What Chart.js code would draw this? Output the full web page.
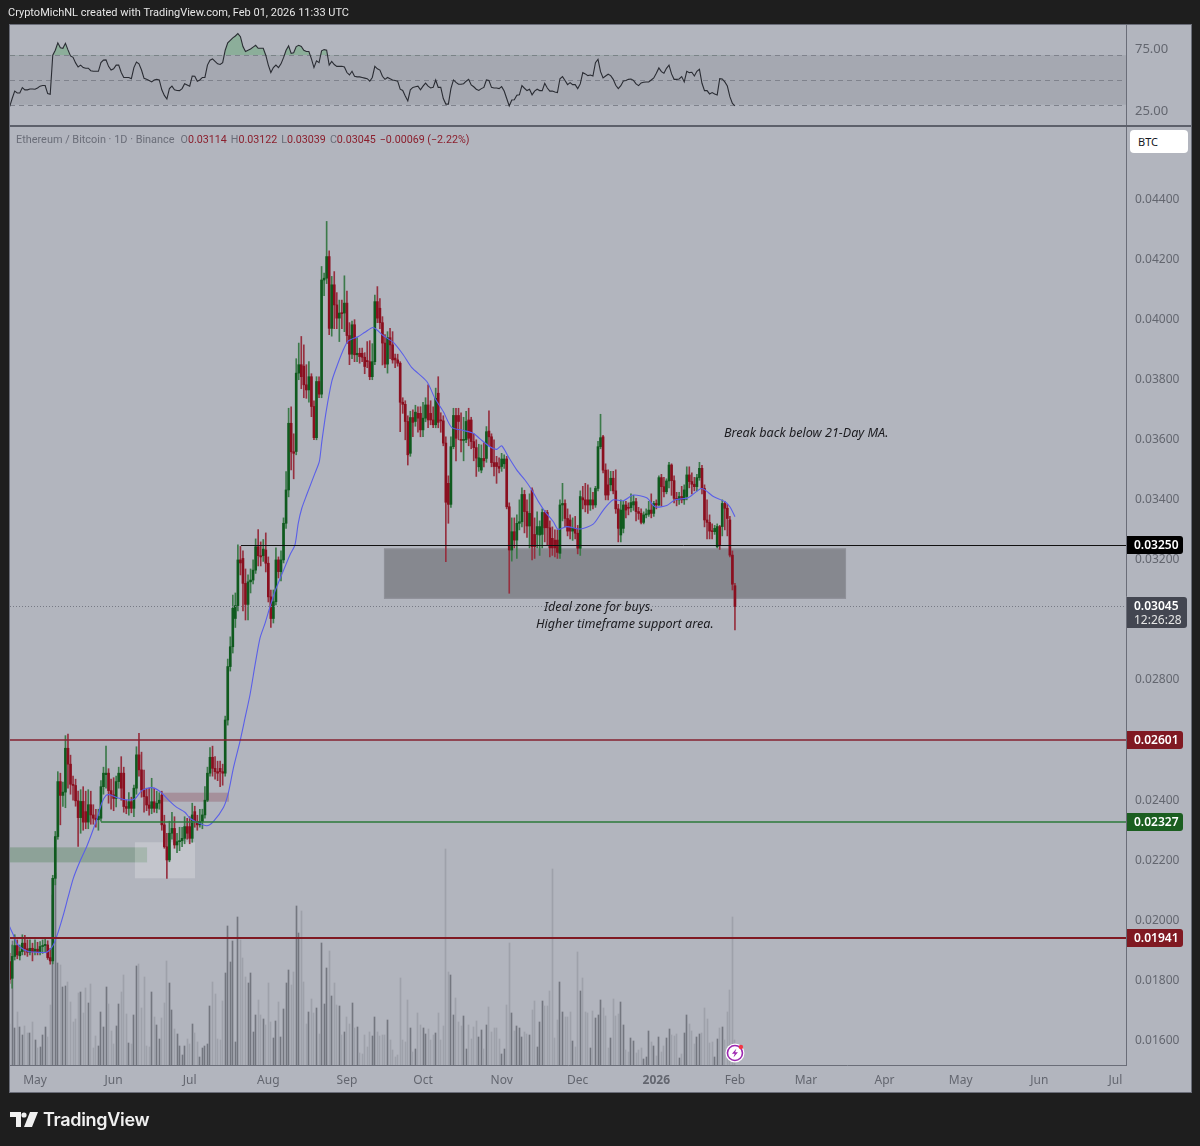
<!DOCTYPE html>
<html>
<head>
<meta charset="utf-8">
<script src="https://cdn.jsdelivr.net/npm/chart.js@4"></script>
<style>
html,body{margin:0;padding:0;background:#1e1e1e;width:1200px;height:1146px;overflow:hidden;font-family:"Noto Sans",sans-serif}
#frame{position:absolute;left:9px;top:24px;width:1181px;height:1067px;background:#b2b5be;border:1px solid #6a6d78}
canvas{position:absolute;left:0}
#rsi{top:0}
#main{top:127px}
.t{position:absolute;white-space:nowrap}
#hdr{left:8px;top:5px;color:#e6e6e6;font-size:11px;line-height:16px;font-family:Roboto,sans-serif}
#leg{left:16px;top:132px;color:#6a6d78;font-size:10.9px;line-height:15px;font-family:Roboto,sans-serif}
#leg b{font-weight:400;color:#8b1f2d}
#leg i{font-style:normal;margin-left:4px;font-size:10.7px}
#leg i:first-of-type{margin-left:6px}
#btc{position:absolute;left:1130px;top:130px;width:58px;height:23px;background:#fff;border-radius:4px;color:#131722;font-size:11px;line-height:23px;text-indent:8px}
.n{color:#1b1b1f;font-size:12.6px;font-style:italic;line-height:16px}
#sep{position:absolute;left:10px;top:125px;width:1181px;height:2px;background:#5d606b}
#tvt{left:43px;top:1106px;color:#f0f0f0;font-size:18px;font-weight:600;line-height:28px;font-family:Inter,"Noto Sans",sans-serif;letter-spacing:-.3px}
#tvl{position:absolute;left:10px;top:1112px}
</style>
</head>
<body>
<div id="frame"></div>
<canvas id="rsi" width="1200" height="127"></canvas>
<div id="sep"></div>
<canvas id="main" width="1200" height="1019"></canvas>
<div class="t" id="hdr">CryptoMichNL created with TradingView.com, Feb 01, 2026 11:33 UTC</div>
<div class="t" id="leg">Ethereum / Bitcoin · 1D · Binance<i>O<b>0.03114</b></i><i>H<b>0.03122</b></i><i>L<b>0.03039</b></i><i>C<b>0.03045</b></i><i><b>−0.00069 (−2.22%)</b></i></div>
<div id="btc">BTC</div>
<div class="t n" style="left:724px;top:425px">Break back below 21-Day MA.</div>
<div class="t n" style="left:544px;top:599px">Ideal zone for buys.</div>
<div class="t n" style="left:536px;top:616px">Higher timeframe support area.</div>
<svg id="tvl" width="28" height="16" viewBox="0 0 28 16"><path d="M0 0h11v15H6V5H0z M20 0h8l-6 15h-8z" fill="#f0f0f0"/><circle cx="14" cy="3" r="2.6" fill="#f0f0f0"/></svg>
<div class="t" id="tvt">TradingView</div>
<script>
// Prices are in units of 0.00001 BTC; one candle per day, first candle = startDay days from 1 May 2025.
const startDay = -10;
const opens = [
1863,1807,1880,1916,1882,1896,1924,1905,1894,1907,
1896,1904,1896,1913,1916,1918,1876,1865,2140,2279,
2462,2416,2427,2573,2520,2453,2449,2398,2342,2396,
2362,2327,2385,2351,2340,2335,2340,2445,2485,2490,
2432,2418,2406,2462,2490,2490,2379,2373,2395,2373,
2440,2551,2501,2434,2412,2384,2373,2395,2373,2390,
2417,2318,2245,2201,2290,2306,2251,2262,2265,2273,
2312,2312,2273,2362,2329,2318,2329,2351,2400,2490,
2543,2506,2495,2506,2495,2490,2667,2845,2911,3005,
3048,3200,3205,3122,3052,3127,3133,3166,3244,3214,
3214,3233,3189,3077,3005,3061,3200,3161,3200,3322,
3433,3655,3560,3561,3822,3850,3845,3783,3766,3810,
3711,3607,3794,3752,4132,4138,4210,3971,4116,4049,
4005,4022,4022,4055,3947,3885,3983,3883,3888,3888,
3875,3864,3860,3810,3860,4060,4038,3990,3922,3852,
3940,3916,3872,3866,3855,3725,3718,3661,3555,3674,
3661,3688,3688,3633,3672,3716,3688,3666,3650,3755,
3666,3663,3589,3455,3385,3577,3681,3681,3600,3598,
3600,3666,3666,3594,3574,3510,3499,3538,3538,3629,
3610,3524,3524,3511,3511,3520,3536,3377,3233,3294,
3266,3322,3327,3418,3361,3313,3433,3285,3285,3283,
3285,3358,3358,3307,3272,3266,3266,3222,3383,3388,
3338,3333,3296,3305,3289,3239,3407,3400,3400,3383,
3400,3383,3438,3577,3610,3499,3450,3450,3472,3430,
3370,3283,3305,3383,3374,3374,3383,3394,3361,3355,
3325,3350,3352,3366,3355,3388,3383,3474,3444,3427,
3463,3516,3464,3405,3400,3411,3400,3411,3483,3461,
3452,3444,3474,3505,3438,3333,3325,3296,3294,3244,
3311,3311,3388,3372,3333,3216,3114];
const highs = [
1890,1918,1952,1935,1918,1952,1950,1935,1935,1924,
1935,1927,1929,1935,1941,1932,1907,2150,2296,2495,
2490,2460,2615,2620,2550,2480,2470,2430,2435,2445,
2430,2435,2430,2385,2370,2370,2465,2510,2580,2505,
2470,2475,2480,2510,2545,2510,2400,2425,2410,2450,
2578,2623,2560,2500,2440,2440,2473,2440,2430,2425,
2430,2350,2290,2330,2360,2345,2290,2310,2310,2345,
2340,2345,2390,2380,2350,2370,2370,2445,2510,2575,
2580,2545,2530,2530,2520,2680,2870,2944,3083,3090,
3250,3245,3230,3170,3150,3170,3200,3270,3301,3260,
3268,3290,3210,3100,3100,3240,3210,3230,3340,3494,
3705,3710,3620,3870,3922,3944,3916,3850,3860,3820,
3730,3810,3810,4177,4155,4327,4229,4144,4160,4090,
4065,4065,4146,4095,3990,3995,4000,3940,3905,3905,
3890,3927,3930,3920,4082,4110,4070,4010,3950,3960,
3971,3960,3885,3885,3860,3740,3730,3680,3695,3700,
3715,3710,3710,3725,3740,3783,3730,3710,3772,3810,
3690,3680,3610,3480,3610,3705,3705,3705,3690,3675,
3695,3705,3675,3620,3600,3585,3583,3590,3644,3696,
3620,3600,3545,3540,3555,3550,3545,3390,3340,3340,
3350,3400,3440,3432,3400,3420,3440,3340,3360,3330,
3370,3365,3365,3330,3310,3300,3300,3400,3455,3400,
3370,3350,3340,3345,3315,3430,3445,3455,3450,3440,
3425,3445,3595,3685,3615,3520,3500,3495,3495,3500,
3385,3400,3395,3395,3390,3420,3415,3405,3375,3370,
3360,3370,3395,3420,3395,3400,3480,3485,3475,3470,
3525,3520,3480,3425,3425,3445,3450,3510,3510,3490,
3475,3485,3525,3515,3450,3400,3350,3320,3315,3320,
3315,3400,3395,3385,3345,3230,3122];
const lows = [
1790,1774,1868,1872,1868,1885,1885,1880,1885,1865,
1885,1885,1885,1890,1896,1870,1854,1855,2118,2270,
2318,2379,2375,2440,2420,2400,2380,2246,2290,2300,
2305,2305,2320,2320,2310,2300,2330,2420,2440,2390,
2370,2365,2378,2440,2400,2360,2355,2350,2358,2345,
2420,2480,2410,2360,2365,2350,2355,2360,2358,2370,
2300,2240,2140,2195,2270,2240,2225,2232,2245,2255,
2270,2255,2260,2310,2300,2310,2305,2340,2395,2480,
2480,2470,2465,2445,2450,2480,2650,2830,2890,2975,
3030,3150,3030,3000,3000,3090,3120,3155,3180,3180,
3195,3160,3060,2975,2990,3050,3140,3130,3190,3305,
3410,3500,3470,3550,3800,3770,3740,3738,3725,3677,
3600,3600,3740,3740,4080,4120,3950,3945,3970,3970,
3927,3970,3960,3920,3850,3870,3860,3860,3855,3860,
3820,3840,3800,3800,3850,3990,3970,3849,3840,3822,
3870,3855,3840,3845,3627,3688,3600,3516,3545,3610,
3645,3625,3610,3610,3660,3640,3650,3640,3640,3640,
3625,3580,3194,3322,3375,3570,3530,3600,3560,3530,
3590,3580,3570,3530,3478,3495,3490,3510,3525,3580,
3510,3480,3455,3490,3495,3505,3370,3089,3196,3240,
3205,3300,3310,3290,3275,3240,3200,3205,3240,3215,
3240,3260,3250,3210,3215,3210,3205,3205,3330,3310,
3280,3270,3265,3270,3220,3215,3370,3360,3355,3365,
3370,3375,3430,3570,3490,3400,3400,3430,3420,3355,
3260,3260,3290,3340,3350,3360,3365,3330,3335,3320,
3320,3340,3345,3340,3345,3370,3380,3380,3410,3420,
3440,3415,3390,3380,3385,3390,3385,3400,3440,3420,
3430,3430,3465,3420,3310,3270,3270,3270,3285,3240,
3235,3280,3300,3280,3210,3100,2967];
const closes = [
1803,1880,1916,1885,1896,1924,1905,1894,1907,1896,
1904,1896,1913,1916,1920,1876,1865,2140,2279,2462,
2416,2427,2573,2520,2453,2449,2398,2342,2396,2327,
2327,2385,2351,2340,2335,2346,2445,2490,2490,2432,
2418,2406,2462,2490,2440,2379,2373,2395,2373,2440,
2551,2501,2434,2412,2384,2373,2395,2373,2390,2400,
2318,2245,2201,2290,2306,2251,2262,2265,2273,2312,
2290,2273,2351,2329,2318,2329,2351,2400,2490,2543,
2506,2495,2490,2495,2490,2667,2845,2911,3039,3048,
3200,3190,3122,3052,3127,3133,3166,3244,3214,3210,
3236,3189,3077,3005,3061,3200,3161,3200,3322,3433,
3655,3560,3555,3822,3850,3810,3783,3766,3810,3711,
3607,3794,3752,4132,4138,4210,3971,4116,4049,4005,
4022,4020,4055,3947,3885,3983,3883,3888,3877,3875,
3844,3860,3810,3860,4060,4005,3990,3922,3852,3940,
3916,3866,3866,3855,3725,3718,3661,3550,3674,3658,
3692,3672,3633,3672,3716,3666,3666,3650,3738,3658,
3663,3589,3392,3385,3577,3681,3605,3661,3598,3600,
3661,3605,3594,3574,3539,3540,3538,3530,3627,3610,
3524,3511,3511,3505,3536,3536,3377,3233,3294,3266,
3322,3327,3418,3361,3313,3355,3244,3244,3311,3311,
3358,3307,3307,3240,3240,3240,3225,3383,3388,3338,
3296,3296,3305,3289,3239,3411,3400,3383,3383,3400,
3383,3438,3577,3607,3499,3416,3416,3472,3430,3370,
3305,3366,3383,3366,3372,3391,3394,3361,3355,3325,
3350,3352,3366,3355,3388,3383,3474,3444,3427,3463,
3516,3464,3405,3400,3411,3400,3433,3483,3461,3452,
3444,3474,3505,3438,3333,3325,3296,3294,3305,3311,
3249,3388,3372,3338,3216,3119,3045];
// Volume, in the overlay's relative units
const volumes = [
41,124,37,53,38,30,39,32,32,43,
25,17,18,30,38,28,60,170,192,102,
100,78,79,83,63,43,46,72,73,52,
77,62,81,17,29,19,53,38,78,61,
34,21,39,61,73,90,51,22,21,50,
99,101,57,88,19,18,73,48,40,26,
47,62,104,82,55,36,31,19,10,19,
26,21,41,32,23,8,17,19,21,59,
83,71,26,25,64,92,139,103,124,23,
148,125,107,88,82,92,33,50,65,50,
46,40,82,43,27,44,63,28,56,82,
95,80,93,159,132,154,83,41,53,66,
52,57,31,122,61,97,114,69,82,60,
59,30,33,48,41,62,37,38,12,11,
30,18,33,29,48,33,29,30,30,45,
25,15,8,10,87,25,23,65,37,13,
16,52,40,37,31,36,25,30,32,52,
25,39,216,93,90,50,67,43,39,49,
16,40,26,38,44,28,35,16,40,58,
33,37,37,26,11,16,60,122,52,34,
39,37,28,33,31,30,55,64,18,43,
64,59,59,74,196,27,45,83,53,48,
48,53,24,18,113,74,87,53,52,17,
54,47,50,65,57,49,17,27,66,49,
51,63,40,15,13,27,24,12,15,17,
6,8,34,23,19,9,28,13,19,27,
36,30,29,31,7,11,32,50,41,34,
21,28,31,32,57,46,22,23,8,26,
37,38,25,53,75,148,25];
const rsiValues = [
28.4,35,41,39.5,39.5,43.8,42,42,42.7,42.7,
42.5,43.5,45,45.5,45.5,39,38.4,70,74,80,
76,75.6,79.6,74.3,69.4,68.3,63.8,60.5,62,60,
59.5,59.5,57.5,57,57,57,64,66,66.2,61,
58,59,62,62,56,52,52,52,51,60,
64.5,63,58,51.3,50.5,49.5,48.4,50,50.5,50,
42,37.5,34.6,43,45,42,41.5,41.4,43,47,
46,45,53.2,53,49,50,52,52,62,66,
67,65,63,62.5,64,74,80,82,84,85.5,
87.5,85,77,73,74,75,76.5,78,75.6,75.6,
75.6,70,62,56,60,62,60,63,68,74,
77.5,71.5,72,77,78,77,74,73,73,67,
60,65.5,64,73.5,74.5,74,62,65,62.5,61,
61,61,60.5,56,54,57,53,52.5,52.5,52,
51.5,51,49,52,61,59,58,53,50.5,52,
51,50,49.5,49,42.5,41.5,37,33,42,44,
44.5,45,42,45,47.5,45,43.5,44,50,44,
44,35,30.5,30.5,43,50,48,46.5,46.5,47,
49,50.5,46,44.5,42.5,41.5,43,44,50,49.5,
44,43.5,43.5,43,44.6,41,35,29,33.8,34,
37.6,38,45.4,43.3,41.4,42.5,38,41,42.5,41.4,
41.4,47.3,43.5,41,41,40.3,39.8,51,52.7,49.5,
46.2,47.8,46.2,46.2,43,46.8,55.9,54.9,53.5,54,
53.2,64,66.7,56.7,51.6,53.2,54.6,53.5,50.5,45.7,
43,45.4,49.2,49.5,50.5,50.8,49.7,46.8,45.4,47.6,
48.1,48.4,48.4,50,51.6,55.4,59.7,56.7,55.4,59.4,
62,54.9,50.5,50.5,50.8,52.7,48.4,57,55.9,56.2,
53.2,57,58.6,47.3,41.4,41.4,38.7,39.8,38.7,37.9,
51,50.8,48.4,45.1,36.5,31,29];
// 21-day moving average: day offset and level
const maDays = [-10.1,-8.6,-7.2,-5.2,-2.6,0.7,4.6,7.2,9.2,11.2,13.1,15.1,17.7,20.4,22.4,24.3,26.3,28,29.6,32.2,36.2,39.4,42.1,46,49.3,53.2,55.9,59.1,61.1,63.8,67.7,70.3,74.3,76.2,78.2,80.8,82.8,84.8,86.8,88.7,90.7,92.7,94.6,97.3,100.6,102.5,103.8,105.2,107.1,110.4,112.1,113.1,114.8,117,119,121.3,123.5,127.5,130.1,133.4,137.3,141.3,145.2,148.5,154.5,157.7,161,164.3,168.9,172.8,175.5,179.4,182.1,184,186.6,190,193.2,195.9,198.5,201.1,204.4,206.3,209.7,214.9,220.1,224.1,228,232,235.9,241.2,244.5,249.1,252.4,257.6,262.9,267.5,272.1,274,276];
const maValues = [1980,1953,1924,1907,1896,1894,1894,1918,1963,2019,2079,2140,2196,2246,2290,2335,2390,2416,2418,2409,2401,2405,2432,2442,2429,2396,2376,2360,2340,2327,2315,2329,2376,2423,2506,2595,2673,2752,2852,2939,2989,3045,3095,3151,3218,3250,3322,3372,3416,3489,3527,3594,3694,3794,3844,3894,3929,3944,3958,3974,3947,3924,3883,3841,3794,3738,3694,3641,3631,3622,3603,3577,3568,3580,3544,3499,3466,3433,3394,3361,3327,3302,3311,3303,3319,3366,3400,3397,3416,3407,3377,3381,3400,3407,3438,3411,3394,3377,3344];
const monthDays = [0,31,61,92,123,153,184,214,245,276,304,335,365,396,426];
const monthLabels = ["May","Jun","Jul","Aug","Sep","Oct","Nov","Dec","2026","Feb","Mar","Apr","May","Jun","Jul"];
const priceTicks = [1600,1800,2000,2200,2400,2600,2800,3000,3200,3400,3600,3800,4000,4200,4400];
const rsiTicks = [25,75];
const rsiLevels = [30,50,70];

const AXIS='#6a6d78', TXT='#63666f', FONT='"Noto Sans",sans-serif';
const UP='#0f5a1e', DOWN='#8a0f1f', UPW='#3c7a4a', DNW='#96303f', VUP='#73767f', VDN='#9ea1aa';
const XMIN=-9.86, XMAX=430.2;
Chart.defaults.animation=false;
Chart.defaults.font.family=FONT;
const days = closes.map((_,i)=>startDay+i);
const isUp = closes.map((c,i)=>c>=opens[i]);
const fitRight = s => { s.width=65; s.paddingTop=0; s.paddingBottom=0; };

const bandPlugin={id:'band',beforeDatasetsDraw(c){
  const {ctx,chartArea:a,scales:{y}}=c;
  ctx.save();
  ctx.fillStyle='rgba(120,123,134,.22)';
  ctx.fillRect(a.left,y.getPixelForValue(70),a.right-a.left,y.getPixelForValue(30)-y.getPixelForValue(70));
  ctx.strokeStyle='#7f828c';ctx.lineWidth=1;ctx.setLineDash([5,4]);
  rsiLevels.forEach(v=>{const p=Math.round(y.getPixelForValue(v))+.5;ctx.beginPath();ctx.moveTo(a.left,p);ctx.lineTo(a.right,p);ctx.stroke();});
  ctx.restore();
}};
new Chart(document.getElementById('rsi'),{
  type:'line',
  data:{datasets:[{
    data:rsiValues.map((v,i)=>({x:startDay+i,y:v})),
    borderColor:'#2a2c33',borderWidth:1.1,pointRadius:0,tension:0,
    fill:{value:70,above:'rgba(70,160,90,.35)',below:'rgba(0,0,0,0)'}
  }]},
  plugins:[bandPlugin],
  options:{responsive:false,devicePixelRatio:1,
    layout:{autoPadding:false,padding:{left:10,right:9,top:25,bottom:2}},
    plugins:{legend:{display:false},tooltip:{enabled:false}},
    scales:{
      x:{type:'linear',min:XMIN,max:XMAX,display:false},
      y:{position:'right',min:13.6,max:94.4,
        afterFit:fitRight,
        afterBuildTicks(s){s.ticks=rsiTicks.map(v=>({value:v}));},
        grid:{display:false},border:{color:AXIS},
        ticks:{padding:1,color:TXT,font:{size:13},callback:v=>v.toFixed(2)}}
    }
  }
});

const zones=[
  {x0:137.6,x1:319.8,p0:3238,p1:3071,fill:'#86888f',stroke:'#8f9199'},
  {x0:-9.86,x1:44.2,p0:2243,p1:2193,fill:'rgba(90,135,100,.42)'},
  {x0:50,x1:76.5,p0:2425,p1:2395,fill:'rgba(136,60,75,.3)'},
  {x0:39.4,x1:63.1,p0:2260,p1:2140,fill:'rgba(255,255,255,.22)'}
];
const levels=[
  {p:3250,x0:81.2,color:'#111',w:1},
  {p:2601,x0:XMIN,color:'#84222f',w:1.4},
  {p:2327,x0:26,color:'#2b7a3a',w:1.4},
  {p:1941,x0:XMIN,color:'#801922',w:2}
];
const tags=[
  {p:3250,txt:'0.03250',bg:'#000',w:56},
  {p:2601,txt:'0.02601',bg:'#801922',w:56},
  {p:2327,txt:'0.02327',bg:'#1b5e20',w:56},
  {p:1941,txt:'0.01941',bg:'#801922',w:56}
];
const overlay={id:'overlay',
  afterDatasetsUpdate(c){
    // snap the volume bars to whole pixels, as thin crisp lines
    c.getDatasetMeta(3).data.forEach(el=>{el.x=Math.floor(el.x)+.5;});
  },
  beforeDatasetsDraw(c){
    const {ctx,scales:{x,y}}=c;
    ctx.save();
    zones.forEach(z=>{
      const X0=x.getPixelForValue(z.x0),X1=x.getPixelForValue(z.x1),Y0=y.getPixelForValue(z.p0),Y1=y.getPixelForValue(z.p1);
      ctx.fillStyle=z.fill;ctx.fillRect(X0,Y0,X1-X0,Y1-Y0);
      if(z.stroke){ctx.strokeStyle=z.stroke;ctx.lineWidth=1;ctx.strokeRect(X0+.5,Y0+.5,X1-X0-1,Y1-Y0-1);}
    });
    ctx.restore();
  },
  afterDatasetsDraw(c){
    const {ctx,chartArea:a,scales:{x,y}}=c;
    ctx.save();
    // last-price dotted line
    const last=closes[closes.length-1],lp=Math.round(y.getPixelForValue(last))+.5;
    ctx.strokeStyle='#777a85';ctx.lineWidth=1;ctx.setLineDash([1,2]);
    ctx.beginPath();ctx.moveTo(a.left,lp);ctx.lineTo(a.right,lp);ctx.stroke();ctx.setLineDash([]);
    levels.forEach(l=>{
      const p=y.getPixelForValue(l.p);ctx.strokeStyle=l.color;ctx.lineWidth=l.w;
      const py=l.w===1?Math.round(p)+.5:Math.round(p);
      ctx.beginPath();ctx.moveTo(x.getPixelForValue(l.x0),py);ctx.lineTo(a.right,py);ctx.stroke();
    });
    // price tags on the axis
    ctx.font='600 12px '+FONT;ctx.textBaseline='middle';ctx.textAlign='left';
    tags.forEach(t=>{
      const p=y.getPixelForValue(t.p);
      ctx.fillStyle=t.bg;ctx.beginPath();ctx.roundRect(a.right+1,Math.round(p)-9,t.w,18,[0,3,3,0]);ctx.fill();
      ctx.fillStyle='#fff';ctx.fillText(t.txt,a.right+8,p+.5);
    });
    const p=y.getPixelForValue(last);
    ctx.fillStyle='#434651';ctx.beginPath();ctx.roundRect(a.right+1,Math.round(p)-9,60,31,[0,3,3,0]);ctx.fill();
    ctx.fillStyle='#fff';ctx.fillText((last/1e5).toFixed(5),a.right+8,p+.5);
    ctx.font='12px '+FONT;ctx.fillStyle='#e6e6e6';ctx.fillText('12:26:28',a.right+8,p+14.5);
    // lightning marker
    const mx=x.getPixelForValue(276),my=a.bottom-12;
    ctx.fillStyle='#fff';ctx.beginPath();ctx.arc(mx,my,9.5,0,Math.PI*2);ctx.fill();
    ctx.strokeStyle='#9c27b0';ctx.lineWidth=1.6;ctx.beginPath();ctx.arc(mx,my,7.5,0,Math.PI*2);ctx.stroke();
    ctx.fillStyle='#9c27b0';ctx.beginPath();
    [[1.5,-4.5],[-3,.8],[-.2,.8],[-1.5,4.5],[3,-.8],[.2,-.8]].forEach((q,i)=>i?ctx.lineTo(mx+q[0],my+q[1]):ctx.moveTo(mx+q[0],my+q[1]));
    ctx.closePath();ctx.fill();
    ctx.fillStyle='#f23645';ctx.beginPath();ctx.arc(mx+6,my-6,2.2,0,Math.PI*2);ctx.fill();
    ctx.restore();
  }
};
new Chart(document.getElementById('main'),{
  data:{datasets:[
    {type:'line',order:1,yAxisID:'y',data:maDays.map((d,i)=>({x:d,y:maValues[i]})),borderColor:'#5a5fe8',borderWidth:1.1,pointRadius:0,tension:.25},
    {type:'bar',order:2,yAxisID:'y',data:days.map((d,i)=>({x:d,y:[opens[i],closes[i]]})),backgroundColor:isUp.map(u=>u?UP:DOWN),barThickness:2,minBarLength:1},
    {type:'bar',order:3,yAxisID:'y',data:days.map((d,i)=>({x:d,y:[lows[i],highs[i]]})),backgroundColor:isUp.map(u=>u?UPW:DNW),barThickness:1},
    {type:'bar',order:4,yAxisID:'yv',data:days.map((d,i)=>({x:d,y:volumes[i]})),backgroundColor:isUp.map(u=>u?VUP:VDN),barThickness:1}
  ]},
  plugins:[overlay],
  options:{responsive:false,devicePixelRatio:1,
    layout:{autoPadding:false,padding:{left:10,right:9,top:0,bottom:54}},
    plugins:{legend:{display:false},tooltip:{enabled:false}},
    datasets:{bar:{grouped:false}},
    scales:{
      x:{type:'linear',min:XMIN,max:XMAX,offset:false,
        afterFit(s){s.height=27;s.paddingLeft=0;s.paddingRight=0;},
        afterBuildTicks(s){s.ticks=monthDays.map(v=>({value:v}));},
        grid:{display:false},border:{color:AXIS},
        ticks:{autoSkip:false,maxRotation:0,padding:0,color:TXT,
          font:ctx=>({size:12,weight:ctx.tick&&ctx.tick.value===245?'700':'400'}),
          callback:v=>monthLabels[monthDays.indexOf(v)]}},
      y:{position:'right',min:1518.4,max:4641.4,
        afterFit:fitRight,
        afterBuildTicks(s){s.ticks=priceTicks.map(v=>({value:v}));},
        grid:{display:false},border:{color:AXIS},
        ticks:{padding:1,color:TXT,font:{size:12},callback:v=>(v/1e5).toFixed(5)}},
      yv:{display:false,min:0,max:938,afterFit(s){s.width=0;s.paddingTop=0;s.paddingBottom=0;}}
    }
  }
});
</script>
</body>
</html>
